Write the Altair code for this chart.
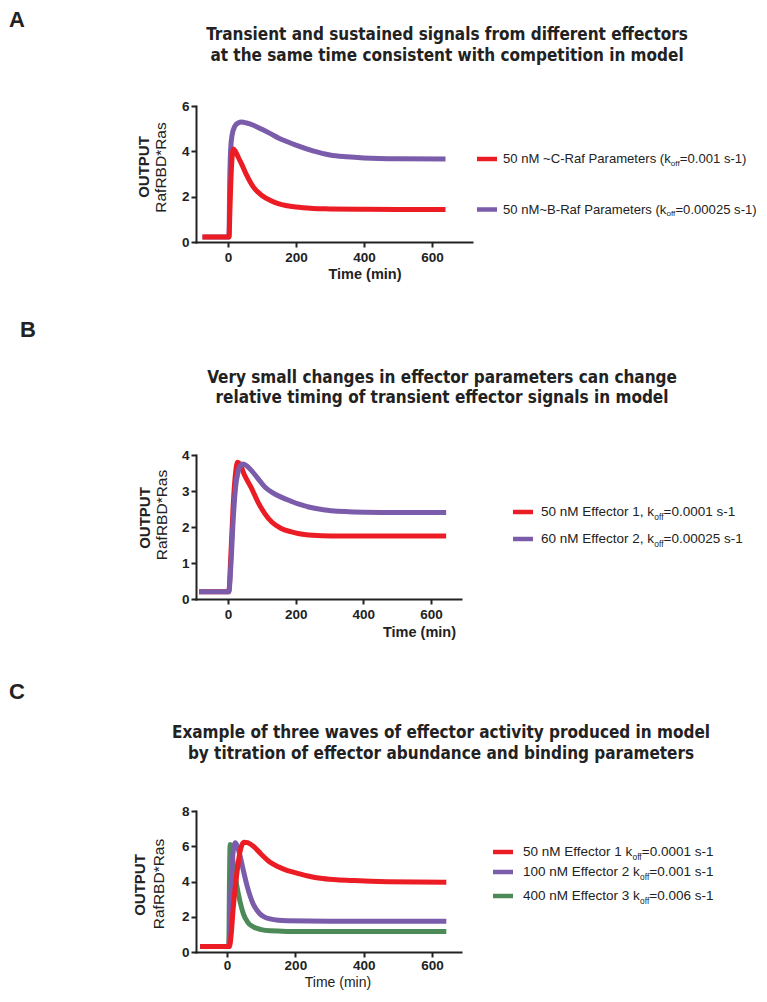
import altair as alt
import pandas as pd

RED = "#ec1c24"
PURPLE = "#7b5cab"
GREEN = "#4c8a58"
INK = "#222222"
FONT = "Liberation Sans"
TITLE_FONT = "Liberation Sans Narrow, DejaVu Sans Condensed, Arial Narrow, Liberation Sans, sans-serif"

# ---------------- Panel A data ----------------
A_RED_T = [-75, 3, 6, 10, 16, 22, 30, 40, 55, 75, 100, 125, 150, 175, 200, 250, 300, 400, 500, 640]
A_RED_V = [0.22, 0.22, 1.5, 3.2, 4.1, 4.0, 3.75, 3.45, 2.95, 2.42, 2.05, 1.83, 1.68, 1.6, 1.54, 1.48, 1.46, 1.44, 1.43, 1.43]
A_PUR_T = [-75, 3, 5, 8, 12, 20, 30, 40, 55, 75, 100, 125, 150, 175, 200, 250, 300, 350, 400, 500, 640]
A_PUR_V = [0.22, 0.22, 2.5, 4.1, 4.7, 5.1, 5.25, 5.29, 5.25, 5.15, 4.97, 4.78, 4.58, 4.42, 4.27, 4.02, 3.84, 3.76, 3.71, 3.67, 3.66]
A_YTICKS = [0, 2, 4, 6]
A_TITLE = ["Transient and sustained signals from different effectors",
           "at the same time consistent with competition in model"]
A_LEGEND = [("50 nM ~C-Raf Parameters (k", "off", "=0.001 s-1)"),
            ("50 nM~B-Raf Parameters (k", "off", "=0.00025 s-1)")]

# ---------------- Panel B data ----------------
B_RED_T = [-86, 2, 8, 15, 22, 28, 35, 48, 68, 88, 108, 130, 157, 185, 207, 250, 305, 400, 500, 645]
B_RED_V = [0.2, 0.2, 1.2, 2.6, 3.5, 3.8, 3.75, 3.45, 3.1, 2.7, 2.38, 2.13, 1.96, 1.87, 1.82, 1.77, 1.75, 1.75, 1.75, 1.75]
B_PUR_T = [-86, 2, 8, 15, 22, 30, 38, 43, 55, 68, 88, 108, 130, 157, 185, 207, 256, 305, 404, 500, 645]
B_PUR_V = [0.2, 0.2, 0.9, 2.2, 3.1, 3.55, 3.72, 3.75, 3.7, 3.58, 3.35, 3.12, 2.96, 2.83, 2.72, 2.64, 2.52, 2.45, 2.41, 2.4, 2.4]
B_YTICKS = [0, 1, 2, 3, 4]
B_TITLE = ["Very small changes in effector parameters can change",
           "relative timing of transient effector signals in model"]
B_LEGEND = [("50 nM Effector 1, k", "off", "=0.0001 s-1"),
            ("60 nM Effector 2, k", "off", "=0.00025 s-1")]

# ---------------- Panel C data ----------------
C_RED_T = [-79, 7, 12, 18, 23, 28, 33, 38, 44, 50, 60, 77, 100, 126, 150, 175, 202, 240, 273, 320, 371, 469, 642]
C_RED_V = [0.31, 0.31, 1.0, 2.5, 3.5, 4.36, 5.1, 5.7, 6.1, 6.23, 6.2, 6.0, 5.55, 5.09, 4.83, 4.63, 4.49, 4.3, 4.18, 4.1, 4.05, 3.99, 3.96]
C_PUR_T = [-79, 5, 10, 15, 20, 24, 30, 38, 48, 58, 68, 77, 87, 97, 110, 126, 150, 175, 300, 450, 642]
C_PUR_V = [0.31, 0.31, 2.8, 5.0, 6.0, 6.2, 6.0, 5.45, 4.6, 3.8, 3.15, 2.7, 2.38, 2.15, 1.98, 1.88, 1.8, 1.77, 1.75, 1.74, 1.74]
C_GRN_T = [-79, 5, 7, 9, 14, 20, 28, 38, 48, 60, 77, 100, 126, 175, 300, 450, 642]
C_GRN_V = [0.31, 0.31, 4.0, 6.1, 5.6, 4.8, 3.8, 2.85, 2.15, 1.7, 1.42, 1.27, 1.2, 1.17, 1.16, 1.16, 1.16]
C_YTICKS = [0, 2, 4, 6, 8]
C_TITLE = ["Example of three waves of effector activity produced in model",
           "by titration of effector abundance and binding parameters"]
C_LEGEND = [("50 nM Effector 1 k", "off", "=0.0001 s-1"),
            ("100 nM Effector 2 k", "off", "=0.001 s-1"),
            ("400 nM Effector 3 k", "off", "=0.006 s-1")]

X_TICKS = [0, 200, 400, 600]
Y_TITLE = ("OUTPUT", "RafRBD*Ras")
X_TITLE = "Time (min)"

# Helvetica/Arial advance widths (1/1000 em) for positioning subscripts
_W = {' ': 278, '(': 333, ')': 333, '*': 389, '-': 333, '.': 278, '=': 584, '~': 584, ',': 278,
      'A': 667, 'B': 667, 'C': 722, 'D': 722, 'E': 667, 'F': 611, 'M': 833, 'O': 778, 'P': 667,
      'R': 722, 'S': 667, 'T': 611, 'U': 722,
      'a': 556, 'b': 556, 'c': 500, 'd': 556, 'e': 556, 'f': 278, 'g': 556, 'h': 556, 'i': 222,
      'k': 500, 'l': 222, 'm': 833, 'n': 556, 'o': 556, 'p': 556, 'r': 333, 's': 500, 't': 278,
      'u': 556, 'v': 500, 'w': 722, 'x': 500, 'y': 500}


def tw(s, size):
    return sum(_W.get(c, 556) for c in s) * size / 1000.0


def one(val):
    return pd.DataFrame({"label": [val]})


def text(val, x, y, size, weight="normal", align="left", angle=0, font=FONT):
    kw = dict(fontSize=size, fontWeight=weight, align=align, baseline="middle", font=font, color=INK)
    if angle:
        kw["angle"] = angle
    return alt.Chart(one(val)).mark_text(**kw).encode(
        text="label:N", x=alt.value(x), y=alt.value(y))


def legend_item(parts, color, x_line, x_text, y, size):
    pre, sub, post = parts
    sub_size = size * 0.62
    rule = alt.Chart(one(pre)).mark_rule(color=color, strokeWidth=4.5).encode(
        x=alt.value(x_line), x2=alt.value(x_line + 20), y=alt.value(y))
    x1 = x_text + tw(pre, size)
    x2 = x1 + tw(sub, sub_size)
    return [rule,
            text(pre, x_text, y, size),
            text(sub, x1, y + 4.5, sub_size),
            text(post, x2, y, size)]


def panel(series, xdom, ydom, yticks, width, height, anchor, letter, title, title_pos,
          ytitle_pos, xtitle, legend, legend_pos, legend_size, xlabel_pad=3):
    xax = alt.Axis(values=X_TICKS, title=None, grid=False, domainColor=INK, domainWidth=2,
                   domainCap="square", tickColor=INK, tickWidth=2, tickSize=5,
                   labelFont=FONT, labelFontWeight="bold", labelFontSize=13.5, labelColor=INK,
                   labelPadding=xlabel_pad, labelFlush=False, labelOverlap=False)
    yax = alt.Axis(values=yticks, title=None, grid=False, domainColor=INK, domainWidth=2,
                   domainCap="square", tickColor=INK, tickWidth=2, tickSize=5,
                   labelFont=FONT, labelFontWeight="bold", labelFontSize=13.5, labelColor=INK,
                   labelPadding=2, labelFlush=False, labelOverlap=False)
    layers = []
    ax, ay1, ay2 = anchor
    layers.append(alt.Chart(one(letter)).mark_rule(strokeOpacity=0, strokeWidth=1).encode(
        x=alt.value(ax), y=alt.value(ay1), y2=alt.value(ay2)))
    for t, v, color in series:
        df = pd.DataFrame({"t": t, "v": v})
        layers.append(alt.Chart(df).mark_line(color=color, strokeWidth=5, interpolate="monotone").encode(
            x=alt.X("t:Q", scale=alt.Scale(domain=xdom, nice=False, zero=False), axis=xax),
            y=alt.Y("v:Q", scale=alt.Scale(domain=ydom, nice=False, zero=False), axis=yax)))
    # panel letter
    layers.append(text(letter, ax + 1, ay1 + 12, 22, "bold"))
    # title
    tx, ty1, ty2 = title_pos
    layers.append(text(title[0], tx, ty1, 17, "bold", "center", font=TITLE_FONT))
    layers.append(text(title[1], tx, ty2, 17, "bold", "center", font=TITLE_FONT))
    # y titles
    (ox, oy), (rx, ry) = ytitle_pos
    layers.append(text(Y_TITLE[0], ox, oy, 15, "bold", "center", angle=270))
    layers.append(text(Y_TITLE[1], rx, ry, 15.5, "normal", "center", angle=270))
    # x title
    xt_x, xt_y, xt_w, xt_align, xt_size = xtitle
    layers.append(text(X_TITLE, xt_x, xt_y, xt_size, xt_w, xt_align))
    # legend
    xl, xtxt, ys = legend_pos
    for (parts, color), y in zip(legend, ys):
        layers.extend(legend_item(parts, color, xl, xtxt, y, legend_size))
    return alt.layer(*layers).properties(width=width, height=height)


pA = panel(
    series=[(A_PUR_T, A_PUR_V, PURPLE), (A_RED_T, A_RED_V, RED)],
    xdom=[-94, 718], ydom=[0, 6], yticks=A_YTICKS, width=276, height=136,
    anchor=(-188, -98, 212), letter="A", title=A_TITLE, title_pos=(251, -71, -50),
    ytitle_pos=((-52.5, 61), (-35.5, 61.5)), xtitle=(169, 169, "bold", "center", 14.5),
    legend=list(zip(A_LEGEND, [RED, PURPLE])), legend_pos=(281, 307, [53, 103.5]),
    legend_size=13.1)

pB = panel(
    series=[(B_RED_T, B_RED_V, RED), (B_PUR_T, B_PUR_V, PURPLE)],
    xdom=[-95, 689], ydom=[0, 4], yticks=B_YTICKS, width=265, height=144,
    anchor=(-177, -137, 225), letter="B", title=B_TITLE, title_pos=(246, -77, -57),
    ytitle_pos=((-51.5, 63), (-34, 60)), xtitle=(260, 178, "bold", "right", 14.5),
    legend=list(zip(B_LEGEND, [RED, PURPLE])), legend_pos=(317, 345, [57, 84]),
    legend_size=13.5)

pC = panel(
    series=[(C_GRN_T, C_GRN_V, GREEN), (C_PUR_T, C_PUR_V, PURPLE), (C_RED_T, C_RED_V, RED)],
    xdom=[-91, 685], ydom=[0, 8], yticks=C_YTICKS, width=265, height=141,
    anchor=(-188, -131, 179), letter="C", title=C_TITLE, title_pos=(245, -78, -57),
    ytitle_pos=((-56.5, 74), (-37.5, 73)), xtitle=(142, 172, "normal", "center", 14),
    legend=list(zip(C_LEGEND, [RED, PURPLE, GREEN])), legend_pos=(297, 327, [41, 61, 85]),
    legend_size=13.5, xlabel_pad=1)

chart = alt.vconcat(pA, pB, pC, spacing=0).properties(padding=0).configure_view(stroke=None)
chart.save("out.html", embed_options={"renderer": "svg", "actions": False})
